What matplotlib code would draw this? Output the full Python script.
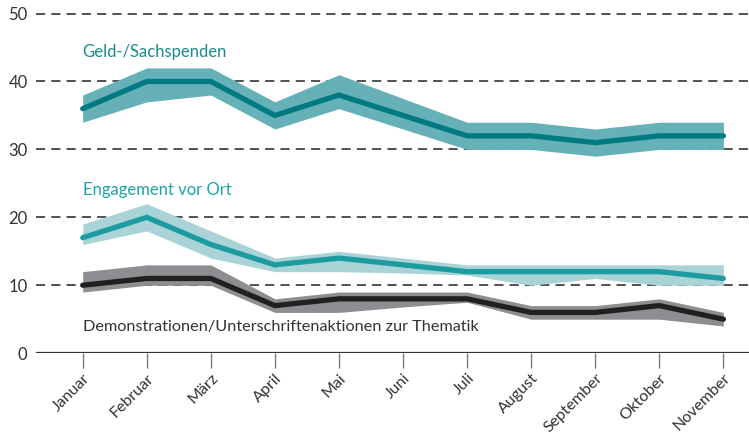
import matplotlib
matplotlib.use("Agg")
import matplotlib.pyplot as plt

plt.rcParams["font.family"] = ["Lato", "DejaVu Sans"]

# ----------------------------
# data
# ----------------------------
months = ["Januar", "Februar", "März", "April", "Mai", "Juni", "Juli",
          "August", "September", "Oktober", "November"]

geld = [36, 40, 40, 35, 38, 35, 32, 32, 31, 32, 32]
geld_hi = [38, 42, 42, 37, 41, 37.5, 34, 34, 33, 34, 34]
geld_lo = [34, 37, 38, 33, 36, 33, 30, 30, 29, 30, 30]

vorort = [17, 20, 16, 13, 14, 13, 12, 12, 12, 12, 11]
vorort_hi = [19, 22, 18, 14, 15, 14, 13, 13, 13, 13, 13]
vorort_lo = [16, 18, 14, 12, 12, 11.8, 11.5, 10, 11, 10, 10]

demo = [10, 11, 11, 7, 8, 8, 8, 6, 6, 7, 5]
demo_hi = [12, 13, 13, 8, 9, 9, 9, 7, 7, 8, 6]
demo_lo = [9, 10, 10, 6, 6, 6.8, 7.5, 5, 5, 5, 4]

yticks = [0, 10, 20, 30, 40, 50]

# ----------------------------
# plot
# ----------------------------
fig = plt.figure(figsize=(7.49, 4.36), dpi=100)
ax = fig.add_axes([0.048, 0.19, 0.952, 0.81])
x = list(range(len(months)))

for yv in yticks[1:]:
    ax.axhline(yv, color="#222222", lw=1.1, ls=(0, (6, 4)), zorder=1)
ax.axhline(0, color="#333333", lw=1.6, zorder=5)

ax.fill_between(x, geld_lo, geld_hi, color="#66b0b8", lw=0, zorder=2)
ax.plot(x, geld, color="#007a82", lw=3.8, solid_capstyle="round",
        solid_joinstyle="miter", zorder=3)

ax.fill_between(x, vorort_lo, vorort_hi, color="#a9d3d7", lw=0, zorder=2)
ax.plot(x, vorort, color="#1c9ca0", lw=3.8, solid_capstyle="round",
        solid_joinstyle="miter", zorder=3)

ax.fill_between(x, demo_lo, demo_hi, color="#8d8e91", lw=0, zorder=2)
ax.plot(x, demo, color="#231f20", lw=3.8, solid_capstyle="round",
        solid_joinstyle="miter", zorder=3)

ax.text(0, 44.3, "Geld-/Sachspenden", color="#1a8a90", fontsize=12, va="center")
ax.text(0, 24.0, "Engagement vor Ort", color="#1fa3a6", fontsize=12, va="center")
ax.text(0, 3.8, "Demonstrationen/Unterschriftenaktionen zur Thematik",
        color="#333333", fontsize=11.7, va="center")

ax.set_xlim(-0.73, 10.4)
ax.set_ylim(0, 52)
ax.set_yticks(yticks)
ax.set_xticks(x)
ax.set_xticklabels(months, rotation=45, ha="right", va="top",
                   rotation_mode="anchor", fontsize=11.5, color="#333333")
ax.tick_params(axis="y", length=0, labelsize=12, labelcolor="#333333", pad=6)
ax.tick_params(axis="x", length=11, width=1, color="#777777", pad=2)
for s in ax.spines.values():
    s.set_visible(False)

fig.savefig("out.png", dpi=100)
